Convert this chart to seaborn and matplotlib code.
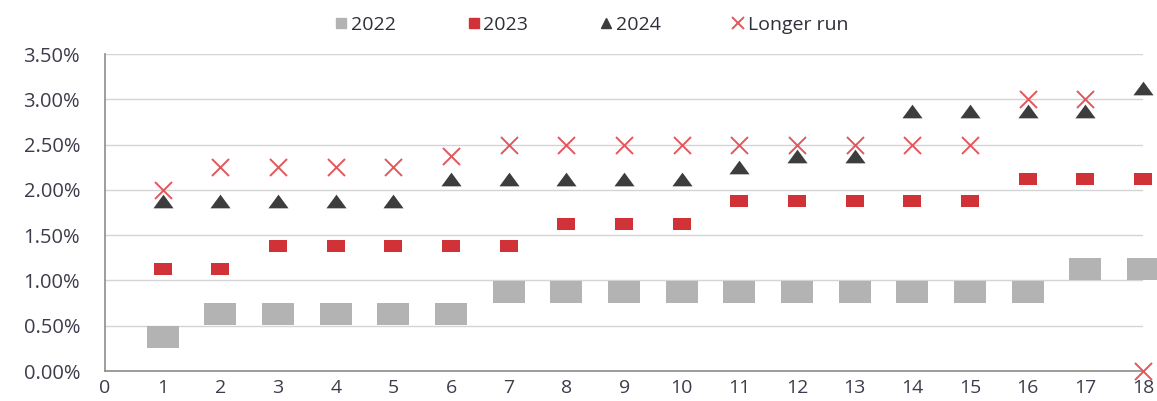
import numpy as np
import pandas as pd
import matplotlib
matplotlib.use("Agg")
import matplotlib.pyplot as plt
from matplotlib.path import Path
from matplotlib.lines import Line2D
from matplotlib.ticker import FuncFormatter, MultipleLocator
import seaborn as sns

participants = list(range(1, 19))
y2022 = [0.375, 0.625, 0.625, 0.625, 0.625, 0.625, 0.875, 0.875, 0.875, 0.875,
         0.875, 0.875, 0.875, 0.875, 0.875, 0.875, 1.125, 1.125]
y2023 = [1.125, 1.125, 1.375, 1.375, 1.375, 1.375, 1.375, 1.625, 1.625, 1.625,
         1.875, 1.875, 1.875, 1.875, 1.875, 2.125, 2.125, 2.125]
y2024 = [1.875, 1.875, 1.875, 1.875, 1.875, 2.125, 2.125, 2.125, 2.125, 2.125,
         2.25, 2.375, 2.375, 2.875, 2.875, 2.875, 2.875, 3.125]
longer_run = [2.0, 2.25, 2.25, 2.25, 2.25, 2.375, 2.5, 2.5, 2.5, 2.5,
              2.5, 2.5, 2.5, 2.5, 2.5, 3.0, 3.0, 0.0]
series_labels = ["2022", "2023", "2024", "Longer run"]

df = pd.DataFrame({"p": participants, "y2022": y2022, "y2023": y2023,
                   "y2024": y2024, "lr": longer_run})

sns.set_theme(style="white")
plt.rcParams['font.family'] = ['Open Sans', 'DejaVu Sans']

fig = plt.figure(figsize=(11.57, 4.01), dpi=100)
ax = fig.add_axes([0.0908, 0.0748, 0.8972, 0.7905])

rect = Path([(-1, -0.68), (1, -0.68), (1, 0.68), (-1, 0.68), (-1, -0.68)],
            [Path.MOVETO, Path.LINETO, Path.LINETO, Path.LINETO, Path.CLOSEPOLY])
rect2 = Path([(-1, -0.7), (1, -0.7), (1, 0.7), (-1, 0.7), (-1, -0.7)],
             [Path.MOVETO, Path.LINETO, Path.LINETO, Path.LINETO, Path.CLOSEPOLY])
tri = Path([(0, 0.68), (-1, -0.68), (1, -0.68), (0, 0.68)],
           [Path.MOVETO, Path.LINETO, Path.LINETO, Path.CLOSEPOLY])

c22 = "#b3b3b3"
c23 = "#d03238"
c24 = "#3d3d3d"
clr = "#e2575c"

sns.scatterplot(data=df, x="p", y="y2022", marker=rect, s=560, color=c22,
                linewidth=0, ax=ax, clip_on=False, zorder=3)
sns.scatterplot(data=df, x="p", y="y2023", marker=rect2, s=160, color=c23,
                linewidth=0, ax=ax, clip_on=False, zorder=4)
sns.scatterplot(data=df, x="p", y="y2024", marker=tri, s=210, color=c24,
                linewidth=0, ax=ax, clip_on=False, zorder=4)
sns.scatterplot(data=df, x="p", y="lr", marker="x", s=150, color=clr,
                linewidth=1.4, ax=ax, clip_on=False, zorder=5)

ax.set_xlim(0, 18)
ax.set_ylim(0, 3.5)
ax.xaxis.set_major_locator(MultipleLocator(1))
ax.yaxis.set_major_locator(MultipleLocator(0.5))
ax.yaxis.set_major_formatter(FuncFormatter(lambda v, _: f"{v:.2f}%"))
ax.set_xlabel("")
ax.set_ylabel("")
ax.grid(axis="y", color="#d4d4d4", linewidth=1.0)
ax.set_axisbelow(True)
for s in ["top", "right"]:
    ax.spines[s].set_visible(False)
for s in ["left", "bottom"]:
    ax.spines[s].set_color("#8c8c8c")
    ax.spines[s].set_linewidth(1.2)
ax.tick_params(axis="both", colors="#8c8c8c", labelcolor="#3c3c4c",
               direction="out", length=4, width=1)
ax.tick_params(axis="y", pad=14, labelsize=14.5)
ax.tick_params(axis="x", pad=2, labelsize=14)

handles = [
    Line2D([], [], marker="s", linestyle="", color=c22, markersize=7),
    Line2D([], [], marker="s", linestyle="", color=c23, markersize=7),
    Line2D([], [], marker="^", linestyle="", color=c24, markersize=7.5),
    Line2D([], [], marker="x", linestyle="", color=clr, markersize=8.5,
           markeredgewidth=1.4),
]
leg = ax.legend(handles, series_labels, loc="center",
                bbox_to_anchor=(0.468, 1.092), ncol=4, frameon=False,
                fontsize=14, handletextpad=0.1, columnspacing=3.6,
                handlelength=0.8, borderpad=0.2)
for t in leg.get_texts():
    t.set_color("#2f2f3a")

fig.savefig("out.png", dpi=100)
